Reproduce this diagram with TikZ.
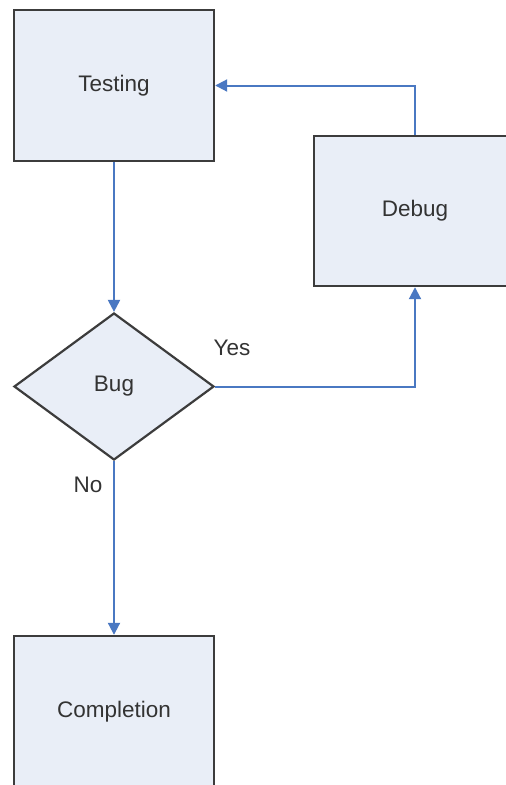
\documentclass[tikz,border=0pt]{standalone}
\usepackage{fontspec}
\setmainfont{Liberation Sans}
\usetikzlibrary{shapes.geometric,arrows.meta}
\definecolor{boxfill}{HTML}{E9EEF7}
\definecolor{boxline}{HTML}{3C3C3C}
\definecolor{flow}{HTML}{4A78C2}
\definecolor{ink}{HTML}{333333}
\tikzset{
  labelfont/.style={font=\fontsize{22.5}{26}\selectfont, text=ink},
  stepbox/.style={rectangle, draw=boxline, fill=boxfill, line width=2.4pt,
    inner sep=0pt, labelfont},
  decision/.style={diamond, draw=boxline, fill=boxfill, line width=2.2pt,
    inner sep=0pt, minimum width=200pt, minimum height=147pt, labelfont},
  flowline/.style={draw=flow, line width=2pt,
    -{Triangle[length=12pt,width=12pt]}},
  answer/.style={labelfont, inner sep=0pt}
}
\begin{document}
\begin{tikzpicture}[x=1pt,y=-1pt]
  \useasboundingbox (0,0) rectangle (506,785);
  \clip (0,0) rectangle (506,785);
  \fill[white] (0,0) rectangle (506,785);

  % process steps
  \node[stepbox, minimum width=200pt, minimum height=151pt] (testing) at (114,85.5) {Testing};
  \node[stepbox, minimum width=202pt, minimum height=150pt] (debug) at (415,211) {Debug};
  \node[stepbox, minimum width=200pt, minimum height=152pt] (completion) at (114,712) {Completion};

  % decision
  \node[decision] (bug) at (114,386.5) {Bug};

  % branch labels
  \node[answer] (yes) at (232,348) {Yes};
  \node[answer] (no) at (88,485) {No};

  % connectors
  \draw[flowline] (testing.south) -- (bug.north);
  \draw[flowline] (bug.east) -| (debug.south);
  \draw[flowline] (debug.north) |- (testing.east);
  \draw[flowline] (bug.south) -- (completion.north);
\end{tikzpicture}
\end{document}
